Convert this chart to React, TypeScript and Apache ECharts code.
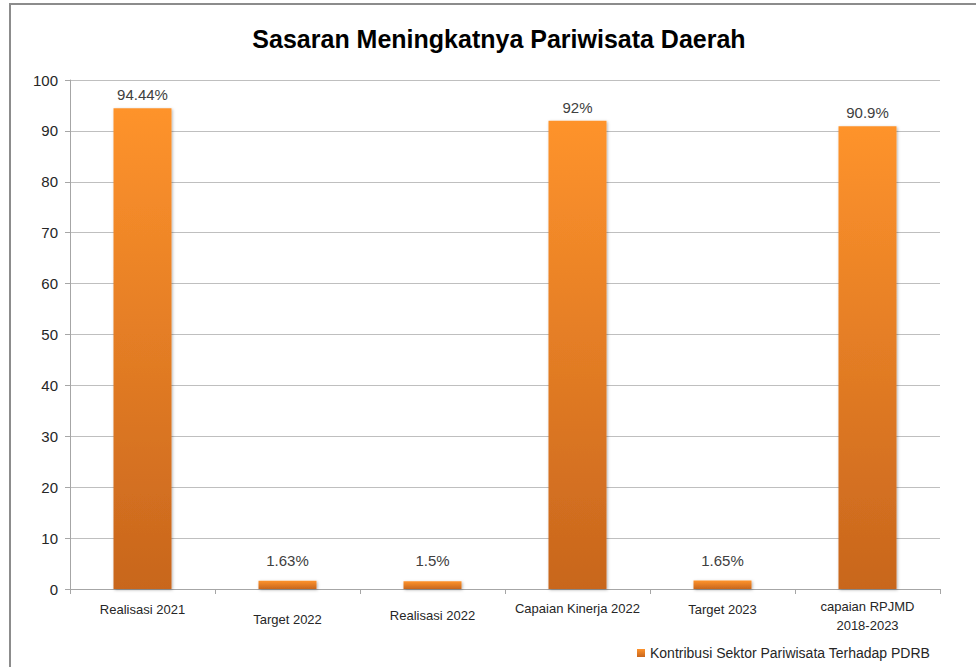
import React, { useEffect, useRef } from "react";
import * as echarts from "echarts";

const TITLE = "Sasaran Meningkatnya Pariwisata Daerah";
const SERIES_NAME = "Kontribusi Sektor Pariwisata Terhadap PDRB";
const categories = [
  "Realisasi 2021",
  "Target 2022",
  "Realisasi 2022",
  "Capaian Kinerja 2022",
  "Target 2023",
  "capaian RPJMD\n2018-2023",
];
const values = [94.44, 1.63, 1.5, 92, 1.65, 90.9];
const valueLabels = ["94.44%", "1.63%", "1.5%", "92%", "1.65%", "90.9%"];
const yTicks = { min: 0, max: 100, interval: 10 };

const FONT = "'Liberation Sans', sans-serif";
// per-category vertical shift of the axis labels (staggered like the source)
const labelShift = [6, 26, 18, 4, 6, 0];

export default function App() {
  const ref = useRef<HTMLDivElement>(null);
  useEffect(() => {
    if (!ref.current) return;
    const chart = echarts.init(ref.current, null, { renderer: "svg" });
    const rich: Record<string, any> = {};
    labelShift.forEach((s, i) => {
      rich["c" + i] = {
        fontFamily: FONT,
        fontSize: 13,
        color: "#262626",
        lineHeight: 19,
        padding: [s, 0, 0, 0],
      };
      rich["d" + i] = {
        fontFamily: FONT,
        fontSize: 13,
        color: "#262626",
        lineHeight: 19,
      };
    });
    chart.setOption({
      animation: false,
      backgroundColor: "#ffffff",
      title: {
        text: TITLE,
        left: 494,
        top: 21,
        textAlign: "center",
        textStyle: {
          fontFamily: FONT,
          fontWeight: "bold",
          fontSize: 25,
          color: "#000000",
        },
      },
      graphic: [
        {
          type: "rect",
          shape: { x: 10, y: 4, width: 2000, height: 2000 },
          style: { fill: "none", stroke: "#8c8c8c", lineWidth: 2 },
          silent: true,
        },
      ],
      legend: {
        left: 632,
        top: 641,
        itemWidth: 8,
        itemHeight: 8,
        itemGap: 6,
        icon: "rect",
        data: [SERIES_NAME],
        textStyle: {
          fontFamily: FONT,
          fontSize: 14,
          color: "#262626",
        },
      },
      grid: { left: 70, right: 36, top: 80, bottom: 78 },
      xAxis: {
        type: "category",
        data: categories,
        axisLine: { show: true, lineStyle: { color: "#a6a6a6", width: 1 } },
        axisTick: {
          show: true,
          alignWithLabel: false,
          length: 5,
          lineStyle: { color: "#a6a6a6" },
        },
        axisLabel: {
          interval: 0,
          margin: 8,
          formatter: (v: string, i: number) => {
            const lines = v.split("\n");
            return lines
              .map((l, k) => (k === 0 ? `{c${i}|${l}}` : `{d${i}|${l}}`))
              .join("\n");
          },
          rich,
        },
        splitLine: { show: false },
      },
      yAxis: {
        type: "value",
        min: yTicks.min,
        max: yTicks.max,
        interval: yTicks.interval,
        axisLine: { show: true, lineStyle: { color: "#a6a6a6", width: 1 } },
        axisTick: { show: true, length: 5, lineStyle: { color: "#a6a6a6" } },
        axisLabel: {
          margin: 12,
          fontFamily: FONT,
          fontSize: 15,
          color: "#262626",
        },
        splitLine: { show: true, lineStyle: { color: "#bfbfbf", width: 1 } },
      },
      series: [
        {
          name: SERIES_NAME,
          type: "bar",
          barWidth: 58,
          data: values.map((v, i) => ({
            value: v,
            label: {
              show: true,
              position: "top",
              distance: v < 10 ? 13 : 6,
              formatter: () => valueLabels[i],
              fontFamily: FONT,
              fontSize: 15,
              color: "#404040",
            },
          })),
          itemStyle: {
            color: new echarts.graphic.LinearGradient(0, 0, 0, 1, [
              { offset: 0, color: "#fe932c" },
              { offset: 1, color: "#c8661d" },
            ]),
            shadowBlur: 3,
            shadowColor: "rgba(0,0,0,0.3)",
            shadowOffsetX: 1,
            shadowOffsetY: 1,
          },
        },
      ],
    });
    return () => chart.dispose();
  }, []);
  return (
    <div
      ref={ref}
      style={{ position: "fixed", left: 0, top: 0, width: 976, height: 667 }}
    />
  );
}
